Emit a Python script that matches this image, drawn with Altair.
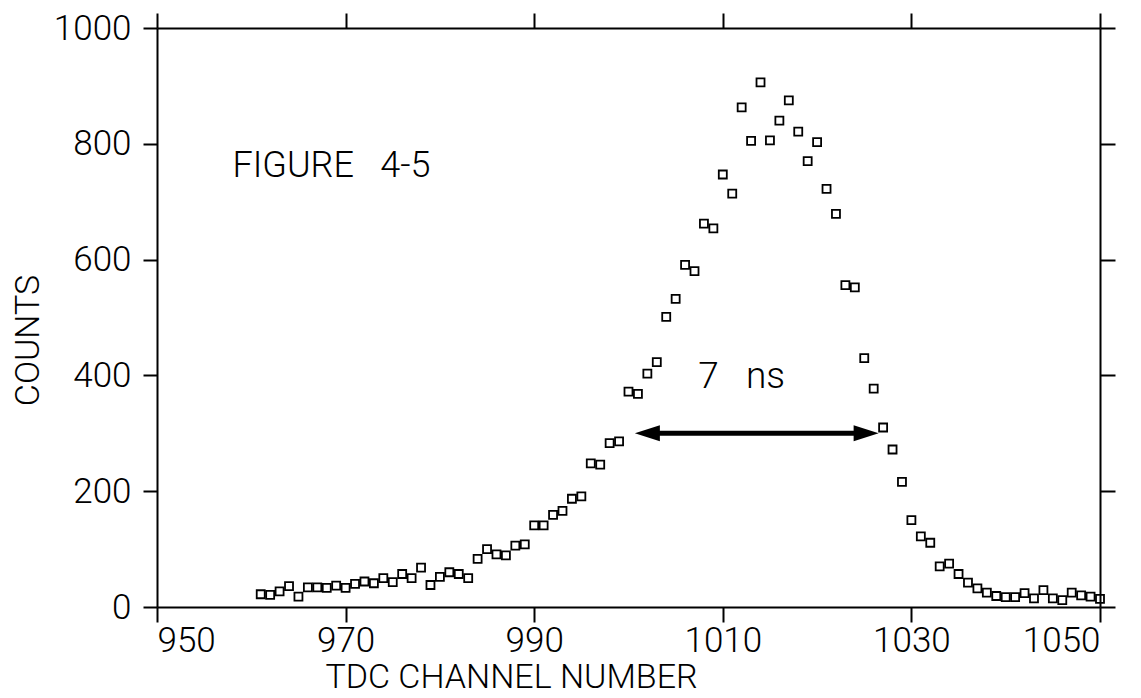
import altair as alt
import pandas as pd

# TDC channel numbers and counts
channels = list(range(961, 1051))
counts = [
    22, 21, 27, 36, 18, 34, 34, 33, 37, 33,
    40, 44, 41, 50, 43, 57, 50, 68, 38, 52,
    60, 57, 50, 83, 100, 91, 89, 106, 108, 141,
    141, 159, 166, 187, 191, 248, 246, 283, 286, 372,
    368, 403, 423, 501, 532, 591, 580, 662, 654, 747,
    714, 863, 805, 906, 806, 840, 875, 821, 770, 803,
    722, 679, 556, 552, 430, 377, 310, 272, 216, 150,
    122, 111, 70, 75, 57, 42, 32, 25, 19, 17,
    17, 24, 15, 29, 15, 12, 25, 20, 18, 14,
]

x_ticks = [950, 970, 990, 1010, 1030, 1050]
y_ticks = [0, 200, 400, 600, 800, 1000]

# annotations (data coordinates)
arrow_x_start = [1002.0]
arrow_x_end = [1025.2]
arrow_y = [300]
head_x = [1002.0, 1025.2]
head_y = [300, 300]
head_shape = ["left", "right"]
fig_text = ["FIGURE\u00a0\u00a0\u00a04-5"]
fig_x = [958.0]
fig_y = [761]
ns_text = ["7\u00a0\u00a0\u00a0ns"]
ns_x = [1012.0]
ns_y = [397]

FONT = "Roboto, Liberation Sans, sans-serif"
FW = 300

df = pd.DataFrame({"ch": channels, "counts": counts})
shaft_df = pd.DataFrame({"x": arrow_x_start, "x2": arrow_x_end, "y": arrow_y})
heads_df = pd.DataFrame({"x": head_x, "y": head_y, "dir": head_shape})
fig_df = pd.DataFrame({"t": fig_text, "x": fig_x, "y": fig_y})
ns_df = pd.DataFrame({"t": ns_text, "x": ns_x, "y": ns_y})

xscale = alt.Scale(domain=[950, 1050], nice=False, zero=False)
yscale = alt.Scale(domain=[0, 1000], nice=False)

common_axis = dict(
    domainColor="black", domainWidth=2, tickColor="black", tickWidth=2,
    grid=False, labelColor="black", labelFont=FONT, labelFontSize=35,
    labelFontWeight=FW, format="d",
    titleFont=FONT, titleFontSize=34, titleFontWeight=FW, titleColor="black",
)

points = alt.Chart(df).mark_point(
    shape="square", filled=False, color="black", size=64, strokeWidth=1.8, opacity=1
).encode(
    x=alt.X("ch:Q", scale=xscale, axis=alt.Axis(
        orient="bottom", values=x_ticks, tickSize=15, labelPadding=1,
        title="TDC CHANNEL NUMBER", titleX=354, titleY=80,
        titleBaseline="alphabetic", titleAlign="center",
        **common_axis)),
    y=alt.Y("counts:Q", scale=yscale, axis=alt.Axis(
        orient="left", values=y_ticks, tickSize=14, labelPadding=12,
        title="COUNTS", titleX=-129, titleY=312, titleAngle=270,
        titleBaseline="middle", titleAlign="center", **common_axis)),
)

shaft = alt.Chart(shaft_df).mark_rule(color="black", strokeWidth=5).encode(
    x=alt.X("x:Q", scale=xscale, axis=alt.Axis(
        orient="top", values=x_ticks, tickSize=15, labels=False, title=None,
        **common_axis)),
    x2="x2:Q",
    y=alt.Y("y:Q", scale=yscale, axis=alt.Axis(
        orient="right", values=y_ticks, tickSize=15, labels=False, title=None,
        **common_axis)),
)

heads = alt.Chart(heads_df).mark_point(filled=True, color="black", size=625, opacity=1).encode(
    x=alt.X("x:Q", scale=xscale, axis=None),
    y=alt.Y("y:Q", scale=yscale, axis=None),
    shape=alt.Shape("dir:N", scale=alt.Scale(
        domain=["left", "right"],
        range=["M -1 0 L 1 -0.64 L 1 0.64 Z", "M 1 0 L -1 -0.64 L -1 0.64 Z"]),
        legend=None),
)

fig_label = alt.Chart(fig_df).mark_text(
    font=FONT, fontSize=36, fontWeight=FW, color="black", baseline="middle", align="left"
).encode(
    x=alt.X("x:Q", scale=xscale, axis=None),
    y=alt.Y("y:Q", scale=yscale, axis=None),
    text="t:N",
)

ns_label = alt.Chart(ns_df).mark_text(
    font=FONT, fontSize=37, fontWeight=FW, color="black", baseline="middle", align="center"
).encode(
    x=alt.X("x:Q", scale=xscale, axis=None),
    y=alt.Y("y:Q", scale=yscale, axis=None),
    text="t:N",
)

chart = alt.layer(points, shaft, heads, fig_label, ns_label).resolve_axis(
    x="independent", y="independent"
).properties(
    width=943, height=579,
    padding={"left": 149, "top": 20, "right": 30, "bottom": 90},
    autosize=alt.AutoSizeParams(type="none"),
    background="white",
).configure_view(stroke=None)

chart.save("out.html", embed_options={"renderer": "svg", "actions": False})
